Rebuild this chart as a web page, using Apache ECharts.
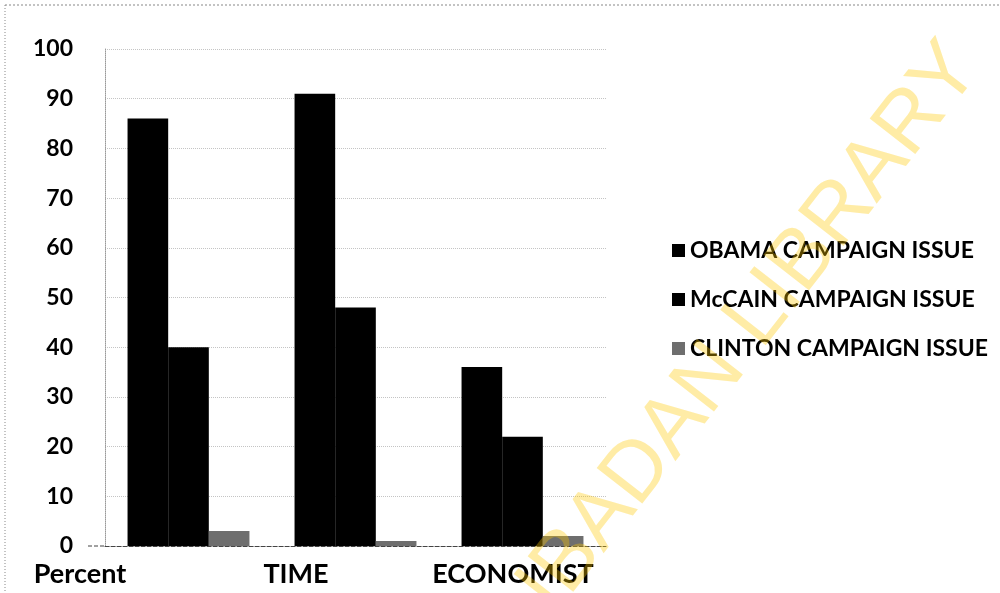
<!DOCTYPE html>
<html>
<head>
<meta charset="utf-8">
<script src="https://cdn.jsdelivr.net/npm/echarts@6/dist/echarts.min.js"></script>
<style>
html,body{margin:0;padding:0;background:#fff;}
#chart{width:1000px;height:593px;}
</style>
</head>
<body>
<div id="chart"></div>
<script>
var categories = ['Percent', 'TIME', 'ECONOMIST'];
var seriesNames = ['OBAMA CAMPAIGN ISSUE', 'McCAIN CAMPAIGN ISSUE', 'CLINTON CAMPAIGN ISSUE'];
var obamaValues = [86, 91, 36];
var mccainValues = [40, 48, 22];
var clintonValues = [3, 1, 2];
var yTicks = [0, 10, 20, 30, 40, 50, 60, 70, 80, 90, 100];
var watermarkText = 'IBADAN LIBRARY';

// right padding (px) that pushes each category label left of its bar group, as in the scan
var labelShift = [217, 119, 19];

var chart = echarts.init(document.getElementById('chart'));
var rich = {};
labelShift.forEach(function (s, i) {
  rich['p' + i] = {fontFamily: 'Lato', fontWeight: 'bold', fontSize: 27, color: '#000', padding: [0, s, 0, 0]};
});
var option = {
  backgroundColor: '#ffffff',
  animation: false,
  grid: {left: 105, right: 394, top: 49, bottom: 47},
  legend: {
    orient: 'vertical',
    left: 667,
    top: 234,
    itemWidth: 13,
    itemHeight: 13,
    itemGap: 26,
    icon: 'rect',
    data: seriesNames,
    textStyle: {fontFamily: 'Lato', fontWeight: 'bold', fontSize: 23, color: '#000'}
  },
  xAxis: {
    type: 'category',
    data: categories,
    axisTick: {show: false},
    axisLine: {show: true, lineStyle: {color: '#444', type: 'dashed', width: 1}},
    axisLabel: {
      margin: 15,
      formatter: function (v, i) { return '{p' + i + '|' + v + '}'; },
      rich: rich
    }
  },
  yAxis: {
    type: 'value',
    min: 0,
    max: 100,
    interval: 10,
    axisLine: {show: true, lineStyle: {color: '#999', type: 'dotted'}},
    axisTick: {show: false},
    splitLine: {show: true, lineStyle: {color: '#c4c4c4', type: 'dotted'}},
    axisLabel: {
      margin: 32,
      fontFamily: 'Lato',
      fontWeight: 'bold',
      fontSize: 23,
      color: '#000',
      formatter: function (v) { return yTicks.indexOf(v) >= 0 ? String(v) : ''; }
    }
  },
  series: [
    {name: seriesNames[0], type: 'bar', data: obamaValues, barGap: '0%', barCategoryGap: '27%', itemStyle: {color: '#000'}},
    {name: seriesNames[1], type: 'bar', data: mccainValues, barGap: '0%', barCategoryGap: '27%', itemStyle: {color: '#000'}},
    {name: seriesNames[2], type: 'bar', data: clintonValues, barGap: '0%', barCategoryGap: '27%', itemStyle: {color: '#6e6e6e'}}
  ],
  graphic: [
    {type: 'line', shape: {x1: 5, y1: 5, x2: 1000, y2: 5}, style: {stroke: '#888', lineDash: [2, 2], lineWidth: 1}},
    {type: 'line', shape: {x1: 5, y1: 5, x2: 5, y2: 593}, style: {stroke: '#888', lineDash: [1, 2], lineWidth: 1}},
    {type: 'line', shape: {x1: 88, y1: 546, x2: 105, y2: 546}, style: {stroke: '#444', lineDash: [4, 2], lineWidth: 1}},
    {
      type: 'text', x: 750, y: 328, rotation: 52 * Math.PI / 180, z: 100,
      style: {text: watermarkText, x: 0, y: 0, align: 'center', verticalAlign: 'middle',
        fontFamily: 'Liberation Sans', fontSize: 84, fill: 'rgba(255,200,0,0.35)'}
    }
  ]
};
chart.setOption(option);
</script>
</body>
</html>
